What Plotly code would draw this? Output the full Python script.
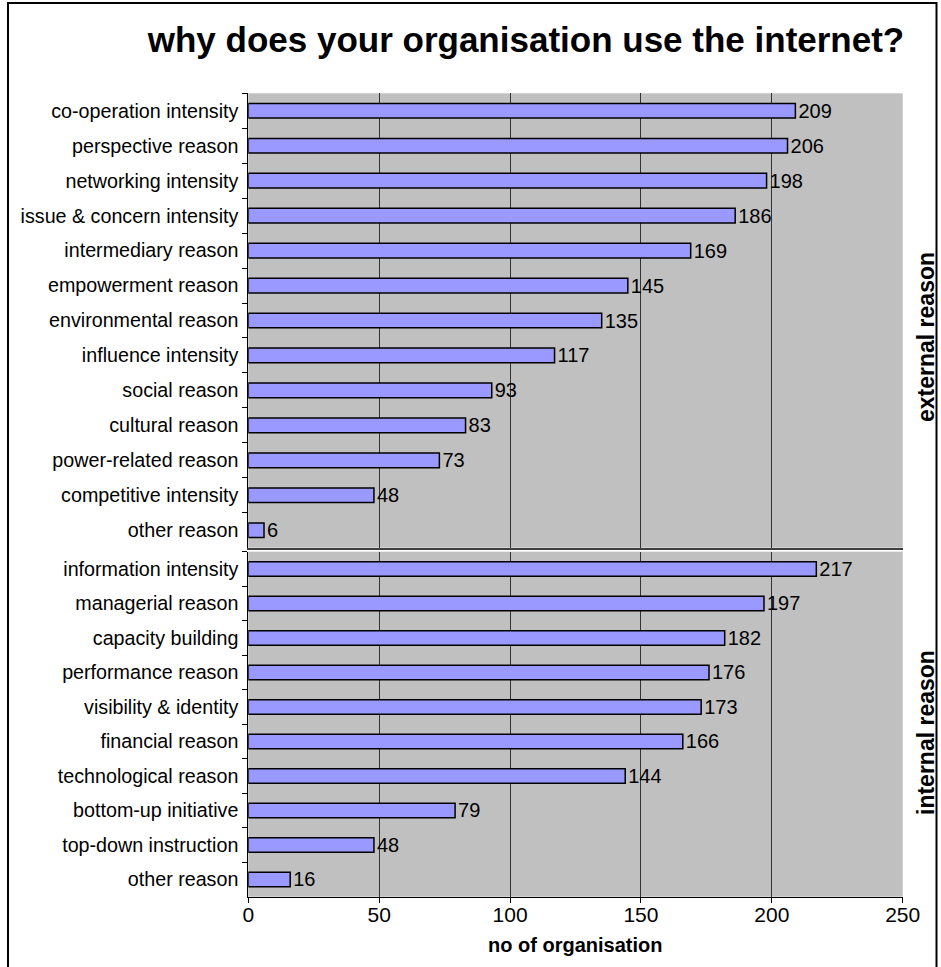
import plotly.graph_objects as go

ext_cats = ["co-operation intensity", "perspective reason", "networking intensity",
            "issue & concern intensity", "intermediary reason", "empowerment reason",
            "environmental reason", "influence intensity", "social reason",
            "cultural reason", "power-related reason", "competitive intensity", "other reason"]
ext_vals = [209, 206, 198, 186, 169, 145, 135, 117, 93, 83, 73, 48, 6]

int_cats = ["information intensity", "managerial reason", "capacity building",
            "performance reason", "visibility & identity", "financial reason",
            "technological reason", "bottom-up initiative", "top-down instruction", "other reason"]
int_vals = [217, 197, 182, 176, 173, 166, 144, 79, 48, 16]

x_ticks = [0, 50, 100, 150, 200, 250]

W, H = 941, 967
FONT = "Liberation Sans, Arial, sans-serif"

def px_x(p):
    return p / W

def px_y(p):
    return 1 - p / H

fig = go.Figure()

bar_style = dict(orientation="h", marker=dict(color="#9999FF", line=dict(color="black", width=1.5)),
                 textposition="outside", constraintext="none",
                 textfont=dict(family=FONT, size=20, color="black"),
                 cliponaxis=False, showlegend=False, hoverinfo="x+y")

fig.add_trace(go.Bar(x=ext_vals, y=ext_cats, text=[str(v) for v in ext_vals],
                     xaxis="x", yaxis="y", **bar_style))
fig.add_trace(go.Bar(x=int_vals, y=int_cats, text=[str(v) for v in int_vals],
                     xaxis="x2", yaxis="y2", **bar_style))

xdom = [px_x(248.3), px_x(902.7)]
common_x = dict(range=[0, 250], tickvals=x_ticks, showgrid=True, gridcolor="#333333",
                gridwidth=1, zeroline=False, domain=xdom, automargin=False)
common_y = dict(type="category", autorange="reversed", tickson="boundaries",
                ticks="outside", ticklen=5, tickcolor="black", showline=True,
                linecolor="black", linewidth=1, showgrid=False, automargin=False,
                ticklabelstandoff=5,
                tickfont=dict(family=FONT, size=19.7, color="black"))

fig.update_layout(
    width=W, height=H,
    autosize=False,
    margin=dict(l=0, r=0, t=0, b=0, autoexpand=False),
    paper_bgcolor="white",
    plot_bgcolor="#C0C0C0",
    bargap=0.58,
    font=dict(family=FONT, color="black"),
    xaxis=dict(anchor="y", showticklabels=False, ticks="", showline=True,
               linecolor="#404040", linewidth=1.5, **common_x),
    yaxis=dict(domain=[px_y(547.7), px_y(93.3)], anchor="x", **common_y),
    xaxis2=dict(anchor="y2", showticklabels=True, ticks="outside", ticklen=5,
                tickcolor="black", showline=True, linecolor="black", linewidth=1,
                ticklabelstandoff=-6,
                tickfont=dict(family=FONT, size=21, color="black"),
                **common_x),
    yaxis2=dict(domain=[px_y(896.7), px_y(551.7)], anchor="x2", **common_y),
    title=dict(text="<b>why does your organisation use the internet?</b>",
               font=dict(family=FONT, size=35, color="black"),
               x=px_x(526), xanchor="center", y=px_y(40), yanchor="middle"),
    annotations=[
        dict(text="<b>no of organisation</b>", x=px_x(575), y=px_y(945), xref="paper", yref="paper",
             showarrow=False, font=dict(family=FONT, size=20, color="black"),
             xanchor="center", yanchor="middle"),
        dict(text="<b>external reason</b>", x=px_x(926), y=px_y(337), xref="paper", yref="paper",
             textangle=-90, showarrow=False, font=dict(family=FONT, size=23, color="black"),
             xanchor="center", yanchor="middle"),
        dict(text="<b>internal reason</b>", x=px_x(926), y=px_y(733), xref="paper", yref="paper",
             textangle=-90, showarrow=False, font=dict(family=FONT, size=23, color="black"),
             xanchor="center", yanchor="middle"),
    ],
    shapes=[
        dict(type="rect", xref="paper", yref="paper", x0=px_x(8), x1=px_x(936.5), y0=px_y(975), y1=px_y(3),
             line=dict(color="black", width=2), fillcolor="rgba(0,0,0,0)", layer="above"),
    ],
)

fig.write_html("out.html", config={"displayModeBar": False},
               post_script="document.body.style.margin='0';document.body.style.overflow='hidden';")
